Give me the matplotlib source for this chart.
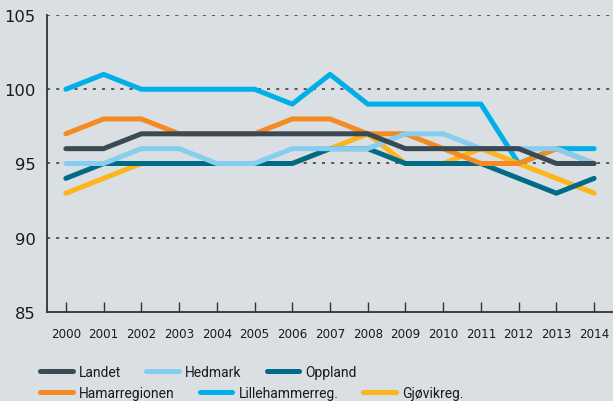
import numpy as np
import matplotlib.pyplot as plt

# --- data ---
years = list(range(2000, 2015))
landet = [96, 96, 97, 97, 97, 97, 97, 97, 97, 96, 96, 96, 96, 95, 95]
hedmark = [95, 95, 96, 96, 95, 95, 96, 96, 96, 97, 97, 96, 96, 96, 95]
oppland = [94, 95, 95, 95, 95, 95, 95, 96, 96, 95, 95, 95, 94, 93, 94]
hamar = [97, 98, 98, 97, 97, 97, 98, 98, 97, 97, 96, 95, 95, 96, 95]
lillehammer = [100, 101, 100, 100, 100, 100, 99, 101, 99, 99, 99, 99, 95, 96, 96]
gjovik = [93, 94, 95, 95, 95, 95, 95, 96, 97, 95, 95, 96, 95, 94, 93]

bg = '#d9dfe2'
fig = plt.figure(figsize=(6.13, 4.02), dpi=100, facecolor=bg)
ax = fig.add_axes([47 / 613, 1 - 313 / 402, 1 - 47 / 613, (313 - 16) / 402])
ax.set_facecolor(bg)

lw = 3.6
# draw order bottom -> top
l_lil, = ax.plot(years, lillehammer, color='#00aee8', lw=lw, solid_capstyle='round', zorder=2)
l_gjo, = ax.plot(years, gjovik, color='#fdb51c', lw=lw, solid_capstyle='round', zorder=3)
l_opp, = ax.plot(years, oppland, color='#006a87', lw=lw, solid_capstyle='round', zorder=4)
l_ham, = ax.plot(years, hamar, color='#f58a23', lw=lw, solid_capstyle='round', zorder=5)
l_hed, = ax.plot(years, hedmark, color='#87cdf0', lw=lw, solid_capstyle='round', zorder=6)
l_lan, = ax.plot(years, landet, color='#3a4a52', lw=lw, solid_capstyle='round', zorder=7)

ax.set_xlim(1999.5, 2014.5)
ax.set_ylim(85, 105)
ax.set_xticks(years)
ax.set_xticklabels([str(y) for y in years], fontsize=8.6, color='#1a1a1a')
ax.set_yticks([85, 90, 95, 100, 105])
ax.set_yticklabels(['85', '90', '95', '100', '105'], fontsize=11.8, color='#1a1a1a')
ax.tick_params(axis='y', length=0, pad=8)
ax.tick_params(axis='x', direction='in', length=7, width=1, color='#333333', pad=11)

for y in [90, 95, 100, 105]:
    ax.axhline(y, color='#333333', lw=1.1, ls=(0, (2, 4)), zorder=1)

for s in ['top', 'right']:
    ax.spines[s].set_visible(False)
ax.spines['left'].set_color('#333333')
ax.spines['bottom'].set_color('#333333')
ax.spines['left'].set_linewidth(1.3)
ax.spines['bottom'].set_linewidth(1.3)

leg_kw = dict(loc='center left', frameon=False, ncol=3,
              prop={'family': 'Roboto', 'size': 10},
              handlelength=2.35, handletextpad=0.45, columnspacing=1.8,
              borderpad=0, borderaxespad=0)
leg1 = fig.legend([l_lan, l_hed, l_opp], ['Landet', 'Hedmark', 'Oppland'],
                  bbox_to_anchor=(40 / 613, 1 - 373 / 402), **leg_kw)
leg2 = fig.legend([l_ham, l_lil, l_gjo], ['Hamarregionen', 'Lillehammerreg.', 'Gjøvikreg.'],
                  bbox_to_anchor=(40 / 613, 1 - 394 / 402), **leg_kw)
for leg in (leg1, leg2):
    for t in leg.get_texts():
        t.set_color('#1a1a1a')

fig.savefig('out.png', dpi=100, facecolor=bg)
